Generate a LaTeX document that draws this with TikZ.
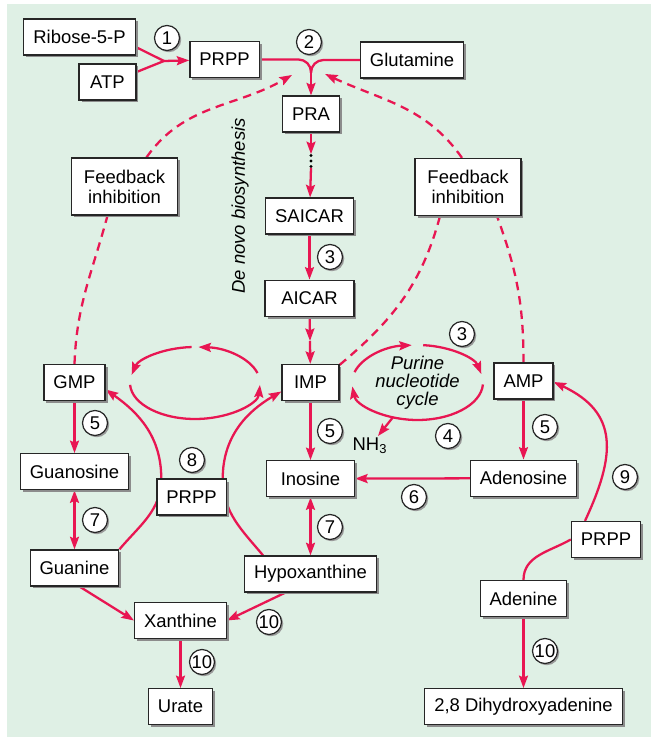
\documentclass[tikz,border=0pt]{standalone}
\usepackage{fontspec}
\setmainfont{Liberation Sans}
\usepackage{tikz}
\usetikzlibrary{arrows.meta, positioning, calc, shadows}

\definecolor{pathred}{RGB}{232,22,82}
\definecolor{panel}{RGB}{223,240,229}

\pgfdeclarelayer{bg}
\pgfdeclarelayer{links}
\pgfsetlayers{bg,links,main}

\tikzset{
  box/.style={draw=black!85, fill=white, line width=0.7pt, minimum height=0.72cm,
    minimum width=1.14cm, inner xsep=0.19cm,
    drop shadow={shadow xshift=0.05cm, shadow yshift=-0.05cm, fill=black!45, opacity=1}},
  fbbox/.style={box, align=center, minimum width=2.12cm, minimum height=1.14cm,
    font=\fontsize{10.5}{11.3}\selectfont},
  num/.style={circle, draw=black!85, fill=white, line width=0.7pt, minimum size=0.5cm,
    inner sep=0pt,
    drop shadow={shadow xshift=0.035cm, shadow yshift=-0.035cm, fill=black!40, opacity=1}},
  flow/.style={draw=pathred, line width=1.3pt},
  fb/.style={flow, dash pattern=on 0.17cm off 0.12cm},
}

\begin{document}
\begin{tikzpicture}[x=0.02cm, y=0.02cm, >={Stealth[length=0.25cm, width=0.18cm, inset=0.04cm]},
    font=\fontsize{10.5}{12}\selectfont]

    \useasboundingbox (0,0) rectangle (651,737);
    \begin{pgfonlayer}{bg}
        \fill[panel] (7,0) rectangle (651,733);
    \end{pgfonlayer}

    % de novo branch
    \node[box] (ribose) at (79.5,700) {Ribose-5-P};
    \node[box] (atp) at (107.5,655) {ATP};
    \node[box] (prppA) at (224.5,677.5) {PRPP};
    \node[box] (glutamine) at (412,677) {Glutamine};
    \node[box] (pra) at (311,623) {PRA};
    \node[inner sep=0pt, minimum height=0.26cm] (dots) at (311,576) {};
    \node[box] (saicar) at (309.5,521) {SAICAR};
    \node[box, minimum width=1.78cm, below=0.9cm of saicar] (aicar) {AICAR};
    \node[box] (imp) at (310.5,354.5) {IMP};
    \node[box] (gmp) at (74.5,354.5) {GMP};
    \node[box] (amp) at (523.5,356) {AMP};

    \node[fbbox] (fbL) at (124.5,550.5) {Feedback\\inhibition};
    \node[fbbox] (fbR) at (468,550) {Feedback\\inhibition};

    % breakdown and salvage
    \node[box, below=1.04cm of gmp] (guanosine) {Guanosine};
    \node[box, minimum width=1.76cm, below=1.18cm of imp] (inosine) {Inosine};
    \node[box, below=1.2cm of amp] (adenosine) {Adenosine};
    \node[box, below=1.18cm of guanosine] (guanine) {Guanine};
    \node[box, below=1.16cm of inosine] (hypox) {Hypoxanthine};
    \node[box] (prppB) at (191.5,240) {PRPP};
    \node[box] (prppC) at (606,197.5) {PRPP};
    \node[box] (xanthine) at (180.5,116.5) {Xanthine};
    \node[box, below=0.98cm of xanthine] (urate) {Urate};
    \node[box] (adenine) at (523.5,138.5) {Adenine};
    \node[box, below=1.42cm of adenine] (dha) {2,8 Dihydroxyadenine};

    \node[inner sep=1pt] (nh3) at (370,291) {NH\textsubscript{3}};
    \node[rotate=90, font=\fontsize{10.5}{12}\selectfont\itshape] (denovo) at (240,531) {De novo biosynthesis};

    \coordinate (lc) at (195,354);
    \coordinate (rc) at (417.5,354.5);
    \node[align=center, font=\fontsize{10.5}{10.3}\selectfont\itshape] (cycle) at (rc) {Purine\\nucleotide\\cycle};

    % enzyme numbers
    \foreach \name/\x/\y/\t in {n1/167/699/1, n2/309/695/2, n3a/330/480/3, n3b/462/403/3,
        n4/448/301/4, n5a/95/314/5, n5b/330/306/5, n5c/545/310/5, n6/414/240/6,
        n7a/95/217/7, n7b/330/210/7, n8/192/277/8, n9/625/260/9,
        n10a/269/115/10, n10b/202/75/10, n10c/545/86/10}
        \node[num] (\name) at (\x,\y) {\t};

    \begin{pgfonlayer}{links}
        \fill (dots) circle (1.6);
        \fill ($(dots)+(0,5.5)$) circle (1.6);
        \fill ($(dots)+(0,-5.5)$) circle (1.6);

        \coordinate (j1) at (164,676);
        \draw[flow] ($(ribose.east)+(0,-10)$) -- (j1);
        \draw[flow] ($(atp.east)+(0,10)$) -- (j1);
        \draw[flow,->] (j1) -- (prppA);

        \coordinate (j2) at (311,664);
        \draw[flow, rounded corners=0.25cm] (prppA.east) -| (j2);
        \draw[flow, rounded corners=0.25cm] (glutamine.west) -| (j2);
        \draw[flow,->] (j2) -- (pra);
        \draw[flow,->] (pra) -- (dots.north);
        \draw[flow,->] (dots.south) -- (saicar);
        \draw[flow,->] (saicar) -- (aicar);
        \coordinate (aicarmid) at (310,396);
        \draw[flow,->] (aicar) -- (aicarmid);
        \draw[flow,->] (aicarmid) -- (imp);

        \draw[flow,->] (gmp) -- (guanosine);
        \draw[flow,->] (imp) -- (inosine);
        \draw[flow,->] (amp) -- (adenosine);
        \draw[flow,->] (adenosine) -- (inosine);
        \draw[flow,<->] (guanosine) -- (guanine);
        \draw[flow,<->] (inosine) -- (hypox);
        \draw[flow,->] ($(guanine.south)+(5,0)$) -- (xanthine.west);
        \draw[flow,->] ($(hypox.south)+(-25,0)$) -- (xanthine.east);
        \draw[flow,->] (xanthine) -- (urate);
        \draw[flow,->] (adenine) -- (dha);

        % salvage through PRPP
        \draw[flow,->] (guanine.north east) to[out=50,in=-90] ($(prppB.north west)+(5,0)$)
            to[out=90,in=-35] ($(gmp.east)+(0,-7)$);
        \draw[flow,->] ($(hypox.north west)+(19,0)$) to[out=130,in=-90] ($(prppB.north east)+(-4,0)$)
            to[out=90,in=-150] ($(imp.west)+(0,-9)$);
        \draw[flow] (adenine.north) to[out=90,in=-150] (prppC.west);
        \draw[flow,->] ($(prppC.north)+(-21,0)$) to[out=65,in=-25,looseness=1.3] ($(amp.east)+(0,-1)$);

        % GMP <-> IMP cycle
        \draw[flow,->] ($(lc)+(16:65 and 36)$) arc[start angle=16, end angle=87, x radius=65, y radius=36];
        \draw[flow,->] ($(lc)+(93:65 and 36)$) arc[start angle=93, end angle=167, x radius=65, y radius=36];
        \draw[flow,->] ($(lc)+(183:65 and 36)$) arc[start angle=183, end angle=357, x radius=65, y radius=36];

        % purine nucleotide cycle
        \draw[flow,->] ($(rc)+(164:65.5 and 37.5)$) arc[start angle=164, end angle=95, x radius=65.5, y radius=37.5];
        \draw[flow,->] ($(rc)+(85:65.5 and 37.5)$) arc[start angle=85, end angle=13, x radius=65.5, y radius=37.5];
        \draw[flow,->] ($(rc)+(-3:65.5 and 37.5)$) arc[start angle=-3, end angle=-174, x radius=65.5, y radius=37.5];
        \draw[flow,->] ($(rc)+(248:65.5 and 37.5)$) -- (nh3);

        % feedback
        \coordinate (stopL) at (292,662);
        \coordinate (stopR) at (325,663);
        \draw[fb] (gmp.north) to[out=88,in=-105] ($(fbL.south)+(-17,0)$);
        \draw[fb,->] ($(fbL.north)+(22,0)$) to[out=55,in=210] (stopL);
        \draw[fb] ($(imp.north east)+(0,-1)$) to[out=40,in=-105] ($(fbR.south)+(-28,0)$);
        \draw[fb] (amp.north) to[out=90,in=-70] ($(fbR.south)+(29,0)$);
        \draw[fb,->] ($(fbR.north)+(-6,0)$) to[out=125,in=-25] (stopR);
    \end{pgfonlayer}
\end{tikzpicture}
\end{document}
